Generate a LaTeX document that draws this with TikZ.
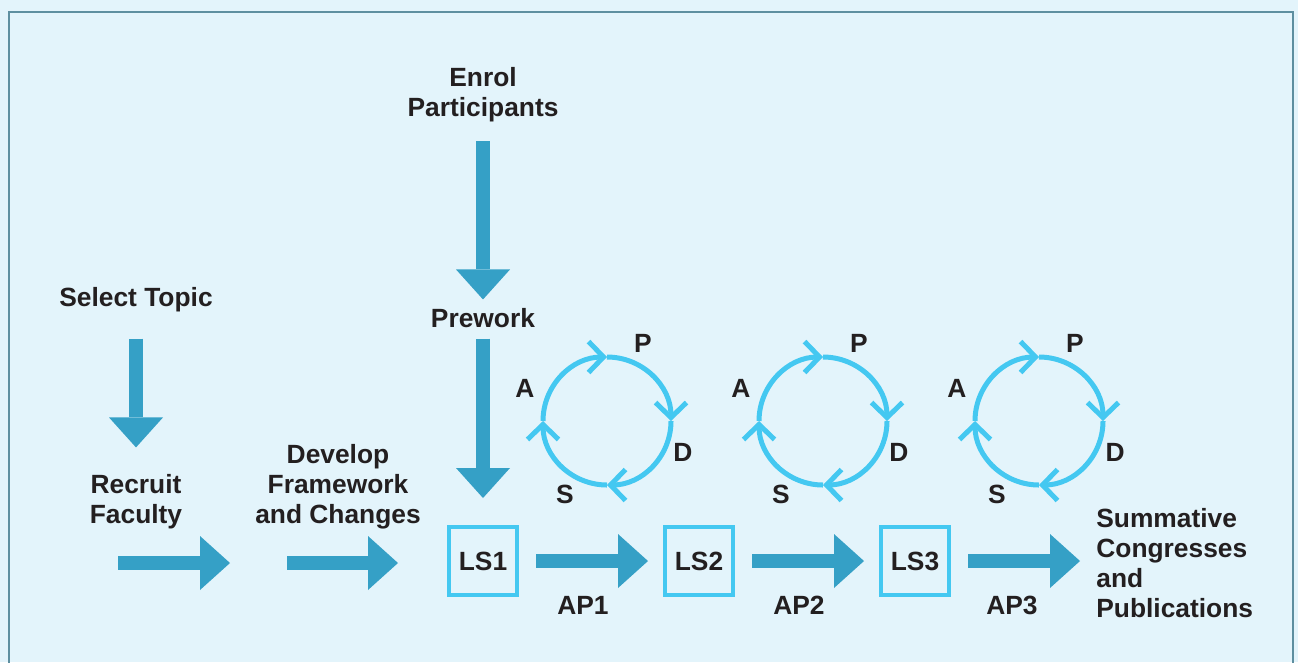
\documentclass[tikz,border=0pt]{standalone}
\usepackage{fontspec}
\setmainfont{Liberation Sans}
\usetikzlibrary{arrows.meta}
\definecolor{mybgcolor}{HTML}{E3F4FB}
\definecolor{myframecolor}{HTML}{5E8FA0}
\definecolor{myarrowcolor}{HTML}{35A0C6}
\definecolor{mycyclecolor}{HTML}{44C8F1}
\definecolor{mytextcolor}{HTML}{231F20}

\begin{document}
\begin{tikzpicture}[
  lbl/.style={inner sep=0pt, text=mytextcolor, font=\fontsize{15pt}{17pt}\selectfont\bfseries},
  lsbox/.style={draw=mycyclecolor, line width=0.09cm, minimum size=1.36cm, outer sep=0pt, inner sep=0pt, text=mytextcolor, font=\fontsize{15pt}{17pt}\selectfont\bfseries},
  bigarrow/.style={draw=myarrowcolor, line width=0.28cm, -{Triangle[length=0.6cm, width=1.08cm, line width=0pt]}},
  cyclearc/.style={draw=mycyclecolor, line width=0.1cm, -{Straight Barb[length=0.3cm, width=0.62cm, line width=0.1cm]}}]%
\useasboundingbox[fill=mybgcolor] (0, 0) rectangle (25.96, -13.24);%
\draw[myframecolor, line width=0.04cm] (0.18, -14) -- (0.18, -0.24) -- (25.86, -0.24) -- (25.86, -14);%
\node[lbl, align=center] (enrol) at (9.66, -1.9) {Enrol\\Participants};%
\node[lbl] (prework) at (9.66, -6.36) {Prework};%
\node[lbl] (select) at (2.72, -6.0) {Select Topic};%
\node[lbl, align=center] (recruit) at (2.72, -10.04) {Recruit\\Faculty};%
\node[lbl, align=center] (develop) at (6.76, -9.74) {Develop\\Framework\\and Changes};%
\node[lbl, align=left, anchor=west] (summative) at (21.92, -11.26) {Summative\\Congresses\\and\\Publications};%
\node[lsbox] (ls1) at (9.66, -11.22) {LS1};%
\node[lsbox] (ls2) at (13.98, -11.22) {LS2};%
\node[lsbox] (ls3) at (18.30, -11.22) {LS3};%
\node[lbl] (ap1) at (11.66, -12.1) {AP1};%
\node[lbl] (ap2) at (15.98, -12.1) {AP2};%
\node[lbl] (ap3) at (20.24, -12.1) {AP3};%
\coordinate (recruit-a) at (2.36, -11.26);%
\coordinate (recruit-b) at (4.6, -11.26);%
\coordinate (develop-a) at (5.74, -11.26);%
\coordinate (develop-b) at (7.96, -11.26);%
\draw[bigarrow, shorten <=0.52cm, shorten >=0.54cm] (select) -- (recruit);%
\draw[bigarrow, shorten <=0.37cm, shorten >=0.17cm] (enrol) -- (prework);%
\draw[bigarrow, shorten <=0.21cm, shorten >=0.58cm] (prework) -- (ls1);%
\draw[bigarrow] (recruit-a) -- (recruit-b);%
\draw[bigarrow] (develop-a) -- (develop-b);%
\draw[bigarrow, shorten <=0.38cm, shorten >=0.34cm] (ls1) -- (ls2);%
\draw[bigarrow, shorten <=0.38cm, shorten >=0.34cm] (ls2) -- (ls3);%
\draw[bigarrow, shorten <=0.38cm, shorten >=0.32cm] (ls3.east) -- (summative.west |- ls3.east);%
\foreach \i/\x in {1/12.14, 2/16.46, 3/20.78} {%
  \coordinate (cycle\i) at (\x, -8.42);%
  \draw[cyclearc] (cycle\i) ++(180:1.28) arc[start angle=180, end angle=90, radius=1.28];%
  \draw[cyclearc] (cycle\i) ++(90:1.28) arc[start angle=90, end angle=0, radius=1.28];%
  \draw[cyclearc] (cycle\i) ++(0:1.28) arc[start angle=0, end angle=-90, radius=1.28];%
  \draw[cyclearc] (cycle\i) ++(-90:1.28) arc[start angle=-90, end angle=-180, radius=1.28];%
  \path (cycle\i) ++(0.72, 1.56) node[lbl] (p\i) {P};%
  \path (cycle\i) ++(1.52, -0.62) node[lbl] (d\i) {D};%
  \path (cycle\i) ++(-0.84, -1.46) node[lbl] (s\i) {S};%
  \path (cycle\i) ++(-1.64, 0.66) node[lbl] (a\i) {A};%
}%
\end{tikzpicture}
\end{document}
